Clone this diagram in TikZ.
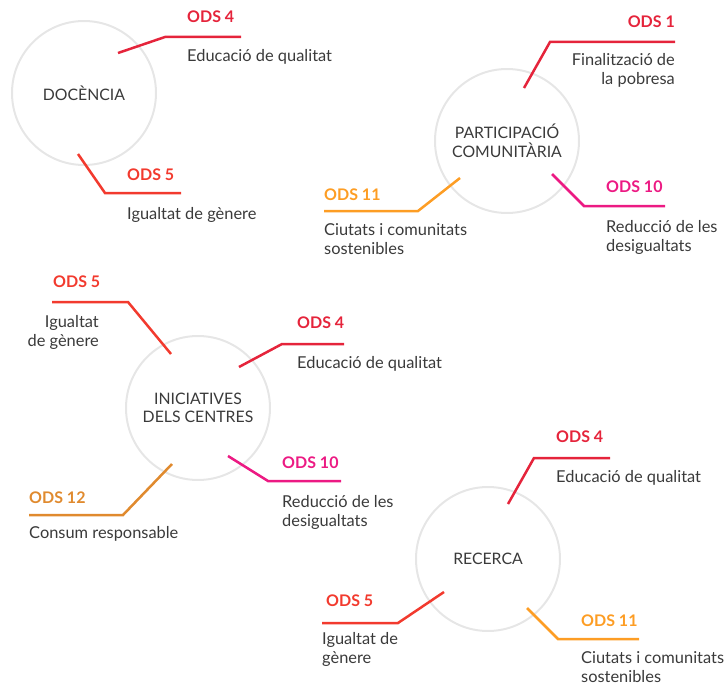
\documentclass[tikz,border=0pt]{standalone}
\usepackage{fontspec}
\setmainfont{Lato}
\definecolor{txt}{HTML}{3A3A3A}
\definecolor{ring}{HTML}{E6E6E6}
\definecolor{odsA}{HTML}{E5243B}
\definecolor{odsB}{HTML}{F23A2E}
\definecolor{odsC}{HTML}{EC1A83}
\definecolor{odsD}{HTML}{FD9D24}
\definecolor{odsE}{HTML}{E08A2E}
\tikzset{
  circ/.style={circle, draw=ring, line width=2pt, minimum size=144pt, inner sep=0pt,
    text=txt, font=\fontsize{15.8}{18.5}\selectfont, align=center},
  ods/.style={font=\fontsize{16}{19}\selectfont\bfseries, inner sep=0pt},
  desc/.style={font=\fontsize{16.4}{19}\selectfont, text=txt, inner sep=0pt},
  link/.style={line width=2.5pt}
}
\begin{document}
\begin{tikzpicture}[x=1pt,y=-1pt]
\useasboundingbox (0,0) rectangle (724,685);

% Docencia
\node[circ] (doc) at (84,93) {DOCÈNCIA};
\coordinate (docA0) at (118,53);
\coordinate (docA1) at (165,37);
\coordinate (docA2) at (241,37);
\node[ods, text=odsA, anchor=west] (docAt) at (187,17) {ODS 4};
\node[desc, anchor=west] (docAd) at (187,57) {Educació de qualitat};
\draw[link, odsA] (docA0) -- (docA1) -- (docA2);
\coordinate (docB0) at (78,154);
\coordinate (docB1) at (105,193);
\coordinate (docB2) at (181,193);
\node[ods, text=odsB, anchor=west] (docBt) at (127,175) {ODS 5};
\node[desc, anchor=west] (docBd) at (127,215) {Igualtat de gènere};
\draw[link, odsB] (docB0) -- (docB1) -- (docB2);

% Participacio comunitaria
\node[circ] (par) at (507,141) {PARTICIPACIÓ\\COMUNITÀRIA};
\coordinate (parA0) at (524,88);
\coordinate (parA1) at (550,42);
\coordinate (parA2) at (675,42);
\node[ods, text=odsA, anchor=east] (parAt) at (675,22) {ODS 1};
\node[desc, anchor=east, align=right] (parAd) at (675,70.5) {Finalització de\\la pobresa};
\draw[link, odsA] (parA0) -- (parA1) -- (parA2);
\coordinate (parB0) at (460,178);
\coordinate (parB1) at (418,211);
\coordinate (parB2) at (324,211);
\node[ods, text=odsD, anchor=west] (parBt) at (324,195) {ODS 11};
\node[desc, anchor=west, align=left] (parBd) at (324,239) {Ciutats i comunitats\\sostenibles};
\draw[link, odsD] (parB0) -- (parB1) -- (parB2);
\coordinate (parC0) at (552,174);
\coordinate (parC1) at (584,206);
\coordinate (parC2) at (665,206);
\node[ods, text=odsC, anchor=west] (parCt) at (606,187) {ODS 10};
\node[desc, anchor=west, align=left] (parCd) at (606,237.5) {Reducció de les\\desigualtats};
\draw[link, odsC] (parC0) -- (parC1) -- (parC2);

% Iniciatives dels centres
\node[circ] (ini) at (198,408) {INICIATIVES\\DELS CENTRES};
\coordinate (iniA0) at (171,354);
\coordinate (iniA1) at (128,302);
\coordinate (iniA2) at (52,302);
\node[ods, text=odsB, anchor=west] (iniAt) at (53,282) {ODS 5};
\node[desc, anchor=east, align=right] (iniAd) at (99,332.5) {Igualtat\\de gènere};
\draw[link, odsB] (iniA0) -- (iniA1) -- (iniA2);
\coordinate (iniB0) at (239,367);
\coordinate (iniB1) at (282,344);
\coordinate (iniB2) at (344,344);
\node[ods, text=odsA, anchor=west] (iniBt) at (297,323) {ODS 4};
\node[desc, anchor=west] (iniBd) at (297,364) {Educació de qualitat};
\draw[link, odsA] (iniB0) -- (iniB1) -- (iniB2);
\coordinate (iniC0) at (228,456);
\coordinate (iniC1) at (268,481);
\coordinate (iniC2) at (341,481);
\node[ods, text=odsC, anchor=west] (iniCt) at (282,463) {ODS 10};
\node[desc, anchor=west, align=left] (iniCd) at (282,512.5) {Reducció de les\\desigualtats};
\draw[link, odsC] (iniC0) -- (iniC1) -- (iniC2);
\coordinate (iniD0) at (172,464);
\coordinate (iniD1) at (123,515);
\coordinate (iniD2) at (29,515);
\node[ods, text=odsE, anchor=west] (iniDt) at (29,498) {ODS 12};
\node[desc, anchor=west] (iniDd) at (29,534) {Consum responsable};
\draw[link, odsE] (iniD0) -- (iniD1) -- (iniD2);

% Recerca
\node[circ] (rec) at (488,559) {RECERCA};
\coordinate (recA0) at (508,504);
\coordinate (recA1) at (534,458);
\coordinate (recA2) at (610,458);
\node[ods, text=odsA, anchor=west] (recAt) at (556,437) {ODS 4};
\node[desc, anchor=west] (recAd) at (556,478) {Educació de qualitat};
\draw[link, odsA] (recA0) -- (recA1) -- (recA2);
\coordinate (recB0) at (444,592);
\coordinate (recB1) at (398,623);
\coordinate (recB2) at (322,623);
\node[ods, text=odsB, anchor=west] (recBt) at (326,601) {ODS 5};
\node[desc, anchor=west, align=left] (recBd) at (322,649.5) {Igualtat de\\gènere};
\draw[link, odsB] (recB0) -- (recB1) -- (recB2);
\coordinate (recC0) at (527,608);
\coordinate (recC1) at (558,639);
\coordinate (recC2) at (639,639);
\node[ods, text=odsD, anchor=west] (recCt) at (581,621) {ODS 11};
\node[desc, anchor=west, align=left] (recCd) at (581,667.5) {Ciutats i comunitats\\sostenibles};
\draw[link, odsD] (recC0) -- (recC1) -- (recC2);
\end{tikzpicture}
\end{document}
